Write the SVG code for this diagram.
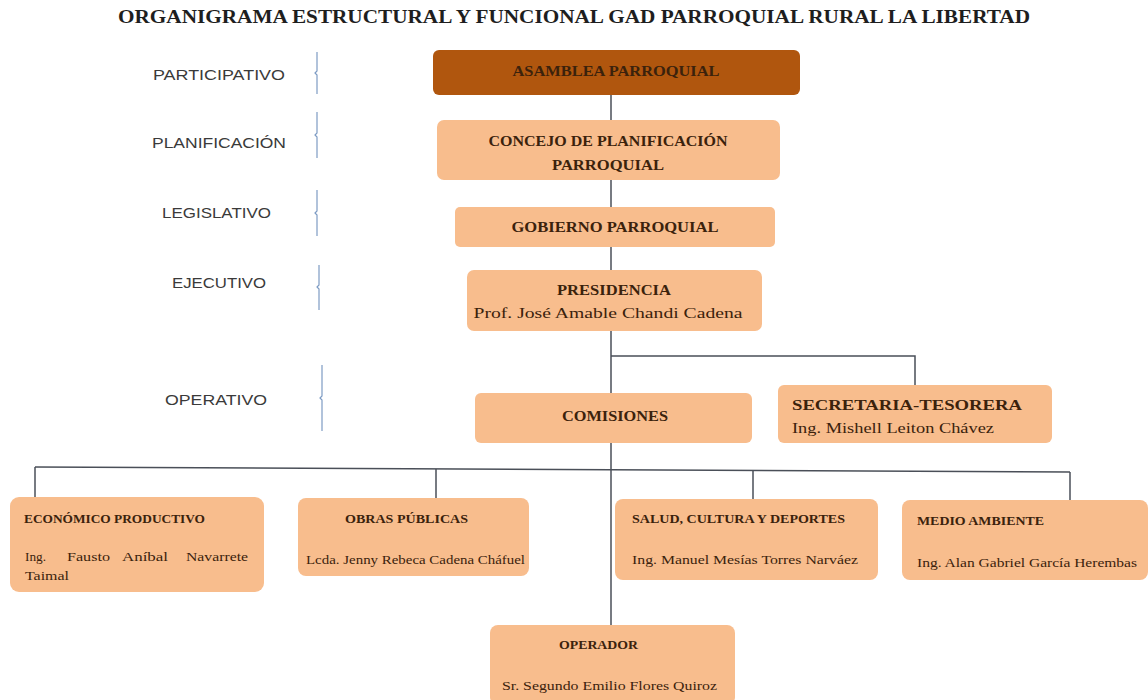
<svg xmlns="http://www.w3.org/2000/svg" width="1148" height="700" viewBox="0 0 1148 700">
<defs>
<style>
.title{font-family:"Liberation Serif",serif;font-weight:bold;font-size:19px;fill:#1e1e1e;}
.lvl{font-family:"Liberation Sans","DejaVu Sans",sans-serif;font-size:15px;fill:#3a3a3a;}
.box{fill:#f8bd8d;}
.dark{fill:#b0560e;}
.h{font-family:"Liberation Serif",serif;font-weight:bold;font-size:15px;fill:#3b220c;}
.n{font-family:"Liberation Serif",serif;font-size:15px;fill:#3b220c;}
.hs{font-family:"Liberation Serif",serif;font-weight:bold;font-size:12px;fill:#3b220c;}
.ns{font-family:"Liberation Serif",serif;font-size:12px;fill:#3b220c;}
.ln{stroke:#4a4f58;stroke-width:1.5;fill:none;}
.br{stroke:#7e9cc4;stroke-width:1.2;fill:none;}
</style>
</defs>
<rect width="1148" height="700" fill="#ffffff"/>
<text class="title" x="574" y="23" text-anchor="middle" textLength="912" lengthAdjust="spacingAndGlyphs">ORGANIGRAMA ESTRUCTURAL Y FUNCIONAL GAD PARROQUIAL RURAL LA LIBERTAD</text>

<g id="levels">
<text class="lvl" x="153" y="80" textLength="132" lengthAdjust="spacingAndGlyphs">PARTICIPATIVO</text>
<text class="lvl" x="152" y="148" textLength="134" lengthAdjust="spacingAndGlyphs">PLANIFICACIÓN</text>
<text class="lvl" x="162" y="218" textLength="109" lengthAdjust="spacingAndGlyphs">LEGISLATIVO</text>
<text class="lvl" x="172" y="288" textLength="94" lengthAdjust="spacingAndGlyphs">EJECUTIVO</text>
<text class="lvl" x="165" y="405" textLength="102" lengthAdjust="spacingAndGlyphs">OPERATIVO</text>
<path class="br" d="M317,52 v19 l-2,2 l2,2 v19"/>
<path class="br" d="M317,112 v21 l-2,2 l2,2 v21"/>
<path class="br" d="M317,190 v21 l-2,2 l2,2 v21"/>
<path class="br" d="M319,265 v20 l-2,2 l2,2 v21"/>
<path class="br" d="M322,365 v31 l-2,2 l2,2 v31"/>
</g>

<g id="connectors">
<line class="ln" x1="611" y1="95" x2="611" y2="625"/>
<polyline class="ln" points="611,356 915,356 915,386"/>
<line class="ln" x1="35" y1="467" x2="1070" y2="472"/>
<line class="ln" x1="35" y1="467" x2="35" y2="497"/>
<line class="ln" x1="436" y1="469" x2="436" y2="498"/>
<line class="ln" x1="753" y1="470" x2="753" y2="500"/>
<line class="ln" x1="1070" y1="472" x2="1070" y2="501"/>
</g>

<g id="asamblea">
<rect class="dark" x="433" y="50" width="367" height="45" rx="6"/>
<text class="h" x="616" y="76" text-anchor="middle" textLength="207" lengthAdjust="spacingAndGlyphs">ASAMBLEA PARROQUIAL</text>
</g>
<g id="concejo">
<rect class="box" x="437" y="120" width="343" height="60" rx="7"/>
<text class="h" x="608" y="146" text-anchor="middle" textLength="239" lengthAdjust="spacingAndGlyphs">CONCEJO DE PLANIFICACIÓN</text>
<text class="h" x="608" y="170" text-anchor="middle" textLength="112" lengthAdjust="spacingAndGlyphs">PARROQUIAL</text>
</g>
<g id="gobierno">
<rect class="box" x="455" y="207" width="320" height="40" rx="5"/>
<text class="h" x="615" y="232" text-anchor="middle" textLength="207" lengthAdjust="spacingAndGlyphs">GOBIERNO PARROQUIAL</text>
</g>
<g id="presidencia">
<rect class="box" x="467" y="270" width="295" height="61" rx="7"/>
<text class="h" x="614" y="295" text-anchor="middle" textLength="114" lengthAdjust="spacingAndGlyphs">PRESIDENCIA</text>
<text class="n" x="608" y="318" text-anchor="middle" textLength="269" lengthAdjust="spacingAndGlyphs">Prof. José Amable Chandi Cadena</text>
</g>
<g id="comisiones">
<rect class="box" x="475" y="393" width="277" height="50" rx="6"/>
<text class="h" x="615" y="421" text-anchor="middle" textLength="106" lengthAdjust="spacingAndGlyphs">COMISIONES</text>
</g>
<g id="secretaria">
<rect class="box" x="778" y="385" width="274" height="58" rx="6"/>
<text class="h" x="792" y="410" textLength="230" lengthAdjust="spacingAndGlyphs">SECRETARIA-TESORERA</text>
<text class="n" x="792" y="433" textLength="202" lengthAdjust="spacingAndGlyphs">Ing. Mishell Leiton Chávez</text>
</g>
<g id="economico">
<rect class="box" x="10" y="497" width="254" height="95" rx="9"/>
<text class="hs" x="24" y="523" textLength="181" lengthAdjust="spacingAndGlyphs">ECONÓMICO PRODUCTIVO</text>
<text class="ns" x="25" y="561" textLength="21" lengthAdjust="spacingAndGlyphs">Ing.</text>
<text class="ns" x="67" y="561" textLength="43" lengthAdjust="spacingAndGlyphs">Fausto</text>
<text class="ns" x="122" y="561" textLength="46" lengthAdjust="spacingAndGlyphs">Aníbal</text>
<text class="ns" x="186" y="561" textLength="62" lengthAdjust="spacingAndGlyphs">Navarrete</text>
<text class="ns" x="25" y="580" textLength="44" lengthAdjust="spacingAndGlyphs">Taimal</text>
</g>
<g id="obras">
<rect class="box" x="298" y="498" width="231" height="78" rx="8"/>
<text class="hs" x="345" y="523" textLength="123" lengthAdjust="spacingAndGlyphs">OBRAS PÚBLICAS</text>
<text class="ns" x="306" y="564" textLength="219" lengthAdjust="spacingAndGlyphs">Lcda. Jenny Rebeca Cadena Cháfuel</text>
</g>
<g id="salud">
<rect class="box" x="615" y="499" width="263" height="81" rx="8"/>
<text class="hs" x="632" y="523" textLength="213" lengthAdjust="spacingAndGlyphs">SALUD, CULTURA Y DEPORTES</text>
<text class="ns" x="632" y="564" textLength="226" lengthAdjust="spacingAndGlyphs">Ing. Manuel Mesías Torres Narváez</text>
</g>
<g id="medio-ambiente">
<rect class="box" x="902" y="500" width="246" height="80" rx="8"/>
<text class="hs" x="917" y="525" textLength="127" lengthAdjust="spacingAndGlyphs">MEDIO AMBIENTE</text>
<text class="ns" x="917" y="567" textLength="220" lengthAdjust="spacingAndGlyphs">Ing. Alan Gabriel García Herembas</text>
</g>
<g id="operador">
<rect class="box" x="490" y="625" width="245" height="80" rx="8"/>
<text class="hs" x="559" y="649" textLength="79" lengthAdjust="spacingAndGlyphs">OPERADOR</text>
<text class="ns" x="502" y="690" textLength="215" lengthAdjust="spacingAndGlyphs">Sr. Segundo Emilio Flores Quiroz</text>
</g>
</svg>
